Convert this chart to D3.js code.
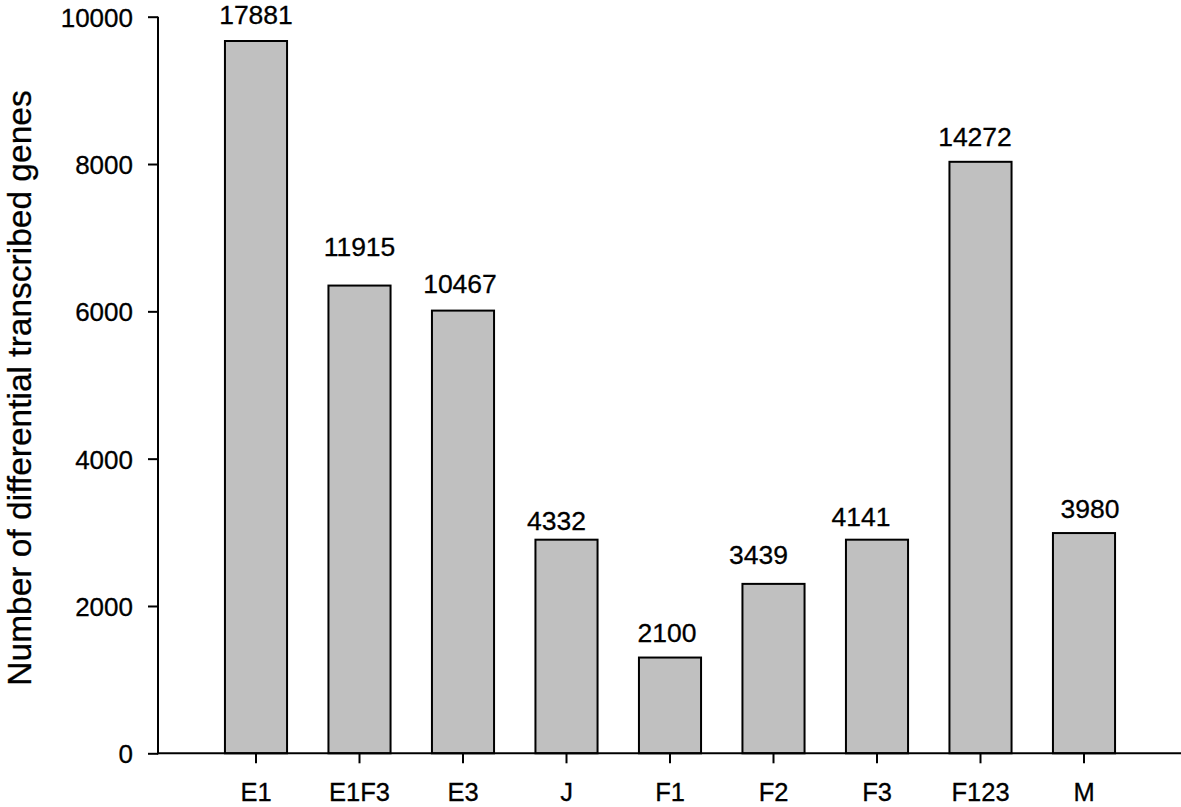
<!DOCTYPE html>
<html>
<head>
<meta charset="utf-8">
<script src="https://cdn.jsdelivr.net/npm/d3@7/dist/d3.min.js"></script>
<style>
  html, body { margin: 0; padding: 0; background: #fff; }
  svg { display: block; font-family: "Liberation Sans", Arial, sans-serif; }
  text { stroke: #000; stroke-width: 0.3px; }
</style>
</head>
<body>
<svg id="chart" width="1181" height="807"></svg>
<script>
// ---- data ----
const categories = ["E1", "E1F3", "E3", "J", "F1", "F2", "F3", "F123", "M"];
const barValues  = [9670, 6350, 6010, 2900, 1300, 2300, 2900, 8030, 2990];
const barLabels  = ["17881", "11915", "10467", "4332", "2100", "3439", "4141", "14272", "3980"];
const yTicks     = [0, 2000, 4000, 6000, 8000, 10000];
const yTitle     = "Number of differential transcribed genes";

// ---- layout ----
const W = 1181, H = 807;
const axisX = 158, axisY0 = 753.3, axisYTop = 16.7;
const labelNudge = [[0,-16.6],[0,-30],[-3,-17.7],[-10,-10],[-3,-16],[-15,-20],[-16,-13.3],[-5.5,-15.7],[6,-15]];

const svg = d3.select("#chart");

const y = d3.scaleLinear().domain([0, 10000]).range([axisY0, axisYTop]);
const x = d3.scaleBand().domain(categories).range([204.25, 1135.75])
  .paddingInner(0.4).paddingOuter(0.2);

// bars
svg.append("g").selectAll("rect").data(categories).join("rect")
  .attr("x", d => x(d))
  .attr("y", (d, i) => y(barValues[i]))
  .attr("width", x.bandwidth())
  .attr("height", (d, i) => y(0) - y(barValues[i]))
  .attr("fill", "#c0c0c0")
  .attr("stroke", "#000")
  .attr("stroke-width", 2);

// bar labels
svg.append("g").selectAll("text").data(categories).join("text")
  .attr("x", (d, i) => x(d) + x.bandwidth() / 2 + labelNudge[i][0])
  .attr("y", (d, i) => y(barValues[i]) + labelNudge[i][1])
  .attr("text-anchor", "middle")
  .attr("font-size", 26.5)
  .attr("fill", "#000")
  .text((d, i) => barLabels[i]);

// y axis
const yAxis = d3.axisLeft(y).tickValues(yTicks).tickSize(10).tickPadding(15).tickFormat(d3.format("d"));
const gy = svg.append("g").attr("transform", `translate(${axisX},0)`).call(yAxis);
gy.select(".domain").remove();
gy.append("line").attr("x1", 0).attr("x2", 0).attr("y1", axisYTop).attr("y2", axisY0 + 1)
  .attr("stroke", "#000").attr("stroke-width", 2);
gy.selectAll(".tick line").attr("stroke", "#000").attr("stroke-width", 2);
gy.selectAll(".tick text").attr("font-size", 26).attr("fill", "#000")
  .attr("font-family", "Liberation Sans, Arial, sans-serif").attr("dy", "0.36em");

// x axis
const xAxis = d3.axisBottom(x).tickSize(10).tickPadding(19.5);
const gx = svg.append("g").attr("transform", `translate(0,${axisY0})`).call(xAxis);
gx.select(".domain").remove();
gx.append("line").attr("x1", axisX - 1).attr("x2", W).attr("y1", 0).attr("y2", 0)
  .attr("stroke", "#000").attr("stroke-width", 2);
gx.selectAll(".tick line").attr("stroke", "#000").attr("stroke-width", 2);
gx.selectAll(".tick text").attr("font-size", 25.5).attr("fill", "#000")
  .attr("font-family", "Liberation Sans, Arial, sans-serif").attr("dy", "0.71em");

// y title
svg.append("text")
  .attr("transform", `translate(30.5,${(axisY0 + axisYTop) / 2 + 3}) rotate(-90)`)
  .attr("text-anchor", "middle")
  .attr("font-size", 33.5)
  .attr("fill", "#000")
  .text(yTitle);
</script>
</body>
</html>
